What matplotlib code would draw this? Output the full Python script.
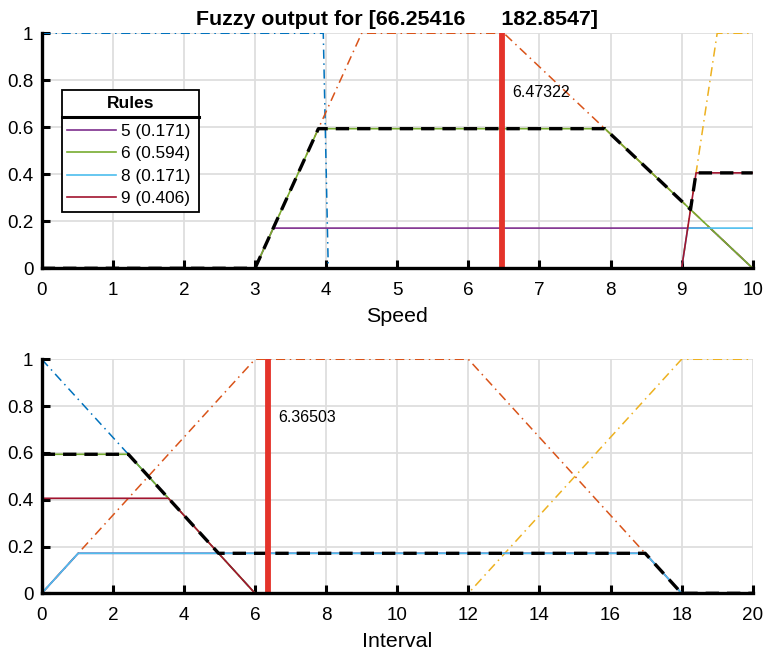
import numpy as np
import matplotlib.pyplot as plt
from matplotlib.lines import Line2D
from matplotlib.patches import Rectangle

plt.rcParams['font.family'] = ['Liberation Sans', 'DejaVu Sans']

# matlab default colours
c_blue = '#0072BD'
c_orange = '#D95319'
c_yellow = '#EDB120'
c_purple = '#7E2F8E'
c_green = '#77AC30'
c_lblue = '#4DBEEE'
c_dred = '#A2142F'
c_line = '#E4332A'

title = 'Fuzzy output for [66.25416      182.8547]'
rule_labels = ['5 (0.171)', '6 (0.594)', '8 (0.171)', '9 (0.406)']

# --- speed output (0..10)
sp_mf_x = [[0, 3.96, 4.03, 10], [0, 3, 4.5, 6.5, 10], [0, 9, 9.5, 10]]
sp_mf_y = [[1, 1, 0, 0], [0, 0, 1, 1, 0], [0, 0, 1, 1]]
sp_rule_x = [[0, 3, 3.257, 9.4, 10],
             [0, 3, 3.891, 7.921, 10],
             [0, 9, 9.086, 10],
             [0, 9, 9.203, 10]]
sp_rule_y = [[0, 0, 0.171, 0.171, 0],
             [0, 0, 0.594, 0.594, 0],
             [0, 0, 0.171, 0.171],
             [0, 0, 0.406, 0.406]]
sp_agg_x = [0, 3, 3.891, 7.921, 9.125, 9.203, 10]
sp_agg_y = [0, 0, 0.594, 0.594, 0.25, 0.406, 0.406]
sp_crisp = 6.47322

# --- interval output (0..20)
iv_mf_x = [[0, 6, 20], [0, 6, 12, 18, 20], [0, 12, 18, 20]]
iv_mf_y = [[1, 0, 0], [0, 1, 1, 0, 0], [0, 0, 1, 1]]
iv_rule_x = [[0, 1.026, 16.974, 18, 20],
             [0, 2.436, 6, 20],
             [0, 1.026, 16.974, 18, 20],
             [0, 3.564, 6, 20]]
iv_rule_y = [[0, 0.171, 0.171, 0, 0],
             [0.594, 0.594, 0, 0],
             [0, 0.171, 0.171, 0, 0],
             [0.406, 0.406, 0, 0]]
iv_agg_x = [0, 2.436, 4.974, 16.974, 18, 20]
iv_agg_y = [0.594, 0.594, 0.171, 0.171, 0, 0]
iv_crisp = 6.36503

mf_colors = [c_blue, c_orange, c_yellow]
rule_colors = [c_purple, c_green, c_lblue, c_dred]

W, H = 767, 652


def draw(ax, mfx, mfy, rx, ry, ax_, ay_, crisp, xmax, xlabel):
    for x, y, c in zip(mfx, mfy, mf_colors):
        ax.plot(x, y, color=c, lw=1.1, ls=(0, (6, 3, 1, 3)), zorder=2)
    hs = []
    for x, y, c in zip(rx, ry, rule_colors):
        h, = ax.plot(x, y, color=c, lw=1.2, zorder=3)
        hs.append(h)
    ax.plot(ax_, ay_, color='black', lw=2.4, ls=(0, (4, 2.4)), zorder=4)
    ax.plot([crisp, crisp], [0, 1], color=c_line, lw=4.2, zorder=5)
    ax.text(crisp + 0.014 * xmax, 0.75, '%.5f' % crisp,
            fontsize=11.5, va='center', ha='left', zorder=6)
    ax.set_xlim(0, xmax)
    ax.set_ylim(0, 1)
    ax.set_yticks([0, 0.2, 0.4, 0.6, 0.8, 1])
    ax.set_yticklabels(['0', '0.2', '0.4', '0.6', '0.8', '1'])
    ax.grid(True, color='#DEDEDE', lw=1.3)
    ax.set_axisbelow(True)
    for s in ['top', 'right']:
        ax.spines[s].set_visible(False)
    for s in ['left', 'bottom']:
        ax.spines[s].set_linewidth(2.4)
        ax.spines[s].set_zorder(7)
    ax.tick_params(direction='in', length=6, width=2.2, labelsize=13.6)
    ax.tick_params(axis='x', pad=10)
    ax.tick_params(axis='y', pad=6)
    ax.set_xlabel(xlabel, fontsize=15.4, labelpad=5.5)
    return hs


fig = plt.figure(figsize=(W / 100, H / 100), dpi=100)
ax1 = fig.add_axes([0.0544, 0.5885, 0.9270, 0.3605])
ax2 = fig.add_axes([0.0544, 0.0900, 0.9270, 0.3590])

hs = draw(ax1, sp_mf_x, sp_mf_y, sp_rule_x, sp_rule_y, sp_agg_x, sp_agg_y,
          sp_crisp, 10, 'Speed')
ax1.set_xticks(range(0, 11))
ax1.set_title(title, fontsize=15.4, fontweight='bold', pad=6)

draw(ax2, iv_mf_x, iv_mf_y, iv_rule_x, iv_rule_y, iv_agg_x, iv_agg_y,
     iv_crisp, 20, 'Interval')
ax2.set_xticks(range(0, 21, 2))

# legend box with a title strip (matlab style)
lx0, lx1, ly0, ysep, ly1 = 62.3, 199, 90, 117, 212
ax1.add_patch(Rectangle((lx0 / W, 1 - ly1 / H), (lx1 - lx0) / W, (ly1 - ly0) / H,
                        transform=fig.transFigure, facecolor='white',
                        edgecolor='black', lw=1.3, clip_on=False, zorder=9))
ax1.add_line(Line2D([lx0 / W, lx1 / W], [1 - ysep / H, 1 - ysep / H],
                    transform=fig.transFigure, color='black', lw=2.2,
                    clip_on=False, zorder=11))
ax1.text((lx0 + lx1) / 2 / W, 1 - (ly0 + ysep) / 2 / H, 'Rules',
         transform=fig.transFigure, ha='center', va='center',
         fontsize=12.5, fontweight='bold', zorder=11)

leg_fs = 12.4
row_pitch = 22.2      # px between legend rows in the reference
first_row = 131.7     # px from top to centre of first row


def make_legend(spacing, top):
    lg = ax1.legend(hs, rule_labels, loc='upper left',
                    bbox_to_anchor=(67 / W, 1 - top / H),
                    bbox_transform=fig.transFigure, fontsize=leg_fs,
                    frameon=False, handlelength=2.85, handletextpad=0.3,
                    borderpad=0, labelspacing=spacing, borderaxespad=0)
    lg.set_zorder(10)
    return lg


spacing, top = 0.4, 122
leg = make_legend(spacing, top)
for _ in range(2):
    fig.canvas.draw()
    bbs = [t.get_window_extent() for t in leg.get_texts()]
    cy = [H - (b.y0 + b.y1) / 2 for b in bbs]
    pitch = (cy[-1] - cy[0]) / 3
    spacing += (row_pitch - pitch) / (leg_fs * 100 / 72)
    top += first_row - cy[0]
    leg.remove()
    leg = make_legend(spacing, top)

fig.savefig('out.png', dpi=100)
